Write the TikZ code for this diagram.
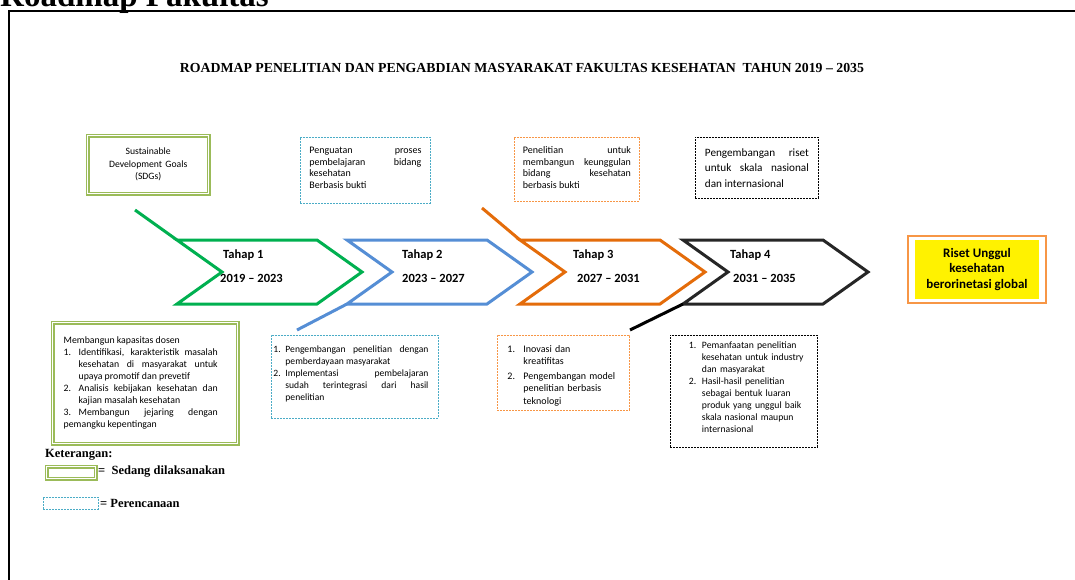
\documentclass[tikz,border=0pt]{standalone}
\usepackage{fontspec}
\setmainfont{Liberation Serif}
\newfontfamily\carlito{Carlito}
\usetikzlibrary{fit}
\definecolor{tahapgreen}{RGB}{0,176,80}
\definecolor{tahapblue}{RGB}{85,142,213}
\definecolor{tahaporange}{RGB}{228,108,10}
\definecolor{tahapdark}{RGB}{38,38,38}
\definecolor{olivegreen}{RGB}{155,187,89}
\definecolor{planblue}{RGB}{75,172,198}
\definecolor{planorange}{RGB}{247,150,70}
\hyphenpenalty=10000
\exhyphenpenalty=10000
% numbered line with hanging indent
\newcommand{\nomor}[2]{\par\hangindent=#1\hangafter=1\noindent\makebox[#1][l]{#2}\ignorespaces}
% empty space below the text of a box
\newcommand{\ruangbawah}[1]{\par\nointerlineskip\vbox to #1{}}

\tikzset{
  panah/.style={line width=3pt},
  tahap/.style={inner sep=0pt, anchor=base west, font=\carlito\bfseries\fontsize{12.5}{14}\selectfont},
  kotak/.style={anchor=north west, inner xsep=0pt, inner ysep=0pt, font=\carlito\fontsize{10}{11.7}\selectfont},
  kotakhijau/.style={draw=olivegreen, line width=1.4pt, double=white, double distance=1.2pt},
  kotakrencana/.style={line width=0.9pt, dash pattern=on 2pt off 1pt},
  legenda/.style={inner sep=0pt, anchor=west, font=\bfseries\fontsize{12.5}{14}\selectfont}
}

\begin{document}
\begin{tikzpicture}[x=1pt, y=-1pt]
\path[use as bounding box] (0,0) rectangle (1075,580);
\clip (0,0) rectangle (1075,580);
\node[anchor=base west, inner sep=0pt, font=\bfseries\fontsize{33}{36}\selectfont] (heading) at (0,7) {Roadmap Fakultas};
\draw[line width=2pt] (9,11) rectangle (1100,600);
\node[inner sep=0pt, font=\bfseries\fontsize{13.8}{16}\selectfont] (judul) at (522,68) {ROADMAP PENELITIAN DAN PENGABDIAN MASYARAKAT FAKULTAS KESEHATAN\ \ TAHUN 2019 -- 2035};

% tahapan
\coordinate (awal1) at (135,210);
\coordinate (awal2) at (297,330);
\coordinate (awal3) at (482,208);
\coordinate (awal4) at (630,330);
\foreach \n/\x/\clr in {1/177/tahapgreen, 2/347/tahapblue, 3/520/tahaporange, 4/683/tahapdark}
  \draw[panah, draw=\clr] (\x,240) coordinate (tl\n) -- ++(140,0) -- ++(45,32) coordinate (tip\n)
    -- ++(-45,32) -- ++(-140,0) coordinate (bl\n) -- ++(45,-32) coordinate (notch\n) -- cycle;
\draw[panah, tahapgreen] (awal1) -- (tl1);
\draw[panah, tahapblue] (awal2) -- (bl2);
\draw[panah, tahaporange] (awal3) -- (tl3);
\draw[panah, black] (awal4) -- (bl4);
\foreach \n/\xa/\xb/\thn in {1/223/220/2019 \textendash{} 2023, 2/402/402/2023 \textendash{} 2027,
                             3/573/577/2027 \textendash{} 2031, 4/730/733/2031 \textendash{} 2035}{
  \node[tahap] (tahap\n) at (\xa,258) {Tahap \n};
  \node[tahap] (tahun\n) at (\xb,282) {\thn};
}

% kotak atas
\node[kotak, kotakhijau, minimum width=121, minimum height=58, text width=100, align=center,
  font=\carlito\fontsize{9.7}{12.5}\selectfont] (sdg) at (87,135)
  {Sustainable\\Development Goals\\(SDGs)};
\node[kotak, kotakrencana, draw=planblue, minimum width=130, minimum height=66, text width=112, align=justify] (atas2) at (300,137)
  {\noindent Penguatan proses\linebreak pembelajaran bidang\linebreak kesehatan\newline Berbasis bukti\ruangbawah{5pt}};
\node[kotak, kotakrencana, draw=planorange, minimum width=125, minimum height=64, text width=108, align=justify] (atas3) at (514,137)
  {\noindent Penelitian untuk\linebreak membangun keunggulan\linebreak bidang kesehatan\linebreak berbasis bukti\ruangbawah{4pt}};
\node[kotak, kotakrencana, draw=black, minimum width=123, minimum height=61, text width=104, align=justify,
  font=\carlito\fontsize{11.2}{15.5}\selectfont] (atas4) at (695,137)
  {\noindent Pengembangan riset\linebreak untuk skala nasional\linebreak dan internasional};

% kotak bawah
\node[kotak, kotakhijau, minimum width=185, minimum height=121, text width=170, align=justify,
  font=\carlito\fontsize{9.8}{12}\selectfont] (bawah1) at (52,322)
  {\leftskip=3.5pt\rightskip=12.5pt\noindent Membangun kapasitas dosen\par
   \nomor{15pt}{1.}Identifikasi, karakteristik masalah\linebreak kesehatan di masyarakat untuk\linebreak upaya promotif dan prevetif\par
   \nomor{15pt}{2.}Analisis kebijakan kesehatan dan\linebreak kajian masalah kesehatan\par
   \noindent\makebox[15pt][l]{3.}Membangun jejaring dengan\linebreak pemangku kepentingan\par};
\node[kotak, kotakrencana, draw=planblue, minimum width=167, minimum height=83, text width=163, align=justify,
  font=\carlito\fontsize{9.6}{12}\selectfont] (bawah2) at (271,335)
  {\rightskip=8pt\nomor{12pt}{1.}Pengembangan penelitian dengan\linebreak pemberdayaan masyarakat\par
   \nomor{12pt}{2.}Implementasi pembelajaran\linebreak sudah terintegrasi dari hasil\linebreak penelitian\ruangbawah{12pt}};
\node[kotak, kotakrencana, draw=planorange, minimum width=132, minimum height=75, text width=112, align=left,
  font=\carlito\fontsize{10}{12.5}\selectfont] (bawah3) at (497,335)
  {\nomor{16pt}{1.}Inovasi dan\newline kreatifitas\par\vspace{2pt}
   \nomor{16pt}{2.}Pengembangan model\newline penelitian berbasis\newline teknologi\par};
\node[kotak, kotakrencana, draw=black, minimum width=147, minimum height=112, text width=128, align=left,
  font=\carlito\fontsize{9.7}{12}\selectfont] (bawah4) at (670,335)
  {\leftskip=9pt\nomor{13pt}{1.}Pemanfaatan penelitian\newline kesehatan untuk industry\newline dan masyarakat\par
   \nomor{13pt}{2.}Hasil-hasil penelitian\newline sebagai bentuk luaran\newline produk yang unggul baik\newline skala nasional maupun\newline internasional\ruangbawah{14pt}};

% tujuan akhir
\node[fill=yellow, minimum width=124, minimum height=59, inner sep=0pt, align=center,
  font=\carlito\bfseries\fontsize{13}{15.5}\selectfont] (riset) at (977,269.5)
  {Riset Unggul\\kesehatan\\berorinetasi global};
\node[fit=(riset), draw=planorange, line width=2.5pt, inner xsep=7pt, inner ysep=4pt] (bingkai) {};

% keterangan
\node[legenda] (keterangan) at (45,455) {Keterangan:};
\node[kotakhijau, anchor=north west, minimum width=49, minimum height=12, inner sep=0pt] (lgsedang) at (46,466) {};
\node[legenda] (lsedang) at (98,472) {=\ \ Sedang dilaksanakan};
\node[kotakrencana, draw=planblue, anchor=north west, minimum width=55, minimum height=12, inner sep=0pt] (lgrencana) at (43,497) {};
\node[legenda] (lrencana) at (100,503) {= Perencanaan};
\end{tikzpicture}
\end{document}
